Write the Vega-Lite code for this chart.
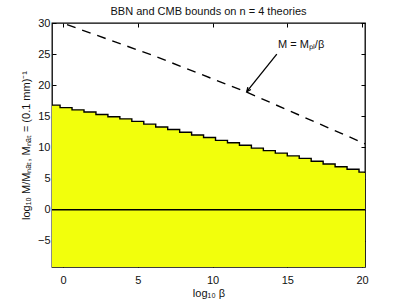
{
  "$schema": "https://vega.github.io/schema/vega-lite/v6.json",
  "autosize": {"type": "none"},
  "width": 313,
  "height": 244,
  "padding": {"left": 52, "top": 23, "right": 38, "bottom": 37},
  "background": "white",
  "config": {
    "view": {"stroke": "black", "strokeWidth": 1.3},
    "font": "Liberation Sans",
    "axis": {"domain": false, "grid": false, "tickColor": "black", "tickSize": -4, "labelColor": "#111", "labelFontSize": 11, "titleFontSize": 11, "titleFontWeight": "normal", "titleColor": "#111", "labelFont": "Liberation Sans", "titleFont": "Liberation Sans"}
  },
  "title": {"text": "BBN and CMB bounds on n = 4 theories", "fontSize": 11, "fontWeight": "normal", "color": "#111", "font": "Liberation Sans", "offset": 0},
  "datasets": {
    "bound": [
      {"lb": -0.74, "m": 16.8}, {"lb": -0.2, "m": 16.4}, {"lb": 0.6, "m": 16.05}, {"lb": 1.4, "m": 15.7},
      {"lb": 2.2, "m": 15.3}, {"lb": 3.0, "m": 14.95}, {"lb": 3.8, "m": 14.6}, {"lb": 4.6, "m": 14.2},
      {"lb": 5.4, "m": 13.75}, {"lb": 6.2, "m": 13.3}, {"lb": 7.0, "m": 12.9}, {"lb": 7.8, "m": 12.45},
      {"lb": 8.6, "m": 12.0}, {"lb": 9.4, "m": 11.6}, {"lb": 10.2, "m": 11.15}, {"lb": 11.0, "m": 10.75},
      {"lb": 11.8, "m": 10.35}, {"lb": 12.6, "m": 9.9}, {"lb": 13.4, "m": 9.5}, {"lb": 14.2, "m": 9.1},
      {"lb": 15.0, "m": 8.65}, {"lb": 15.8, "m": 8.25}, {"lb": 16.6, "m": 7.8}, {"lb": 17.4, "m": 7.35},
      {"lb": 18.2, "m": 6.9}, {"lb": 19.0, "m": 6.5}, {"lb": 19.8, "m": 6.05}, {"lb": 20.2, "m": 5.9}
    ],
    "planck": [
      {"lb": -0.74, "m": 30.6}, {"lb": 6.0, "m": 24.8}, {"lb": 12.27, "m": 18.9}, {"lb": 20.2, "m": 10.6}
    ],
    "zero": [{"m": 0}],
    "arrow": [{"lb": 14.3, "m": 25.0}, {"lb": 12.29, "m": 18.97}],
    "tip": [{"lb": 12.29, "m": 18.97}],
    "label": [{"lb": 14.38, "m": 26.5, "t": "M = Mₚₗ/β"}]
  },
  "layer": [
    {
      "data": {"name": "bound"},
      "mark": {"type": "area", "interpolate": "step-after", "color": "#f2ff0c", "clip": true},
      "encoding": {
        "x": {"field": "lb", "type": "quantitative", "scale": {"domain": [-0.74, 20.2], "nice": false, "zero": false},
              "axis": {"orient": "bottom", "values": [0, 5, 10, 15, 20], "title": "log₁₀ β", "labelPadding": 11, "titlePadding": 2}},
        "y": {"field": "m", "type": "quantitative", "scale": {"domain": [-9.2, 30], "nice": false, "zero": false},
              "axis": {"orient": "left", "values": [-5, 0, 5, 10, 15, 20, 25, 30], "title": "log₁₀ M/Mₙₐₜ, Mₙₐₜ = (0.1 mm)⁻¹", "labelPadding": 6, "titlePadding": 6}},
        "y2": {"datum": -9.2}
      }
    },
    {
      "data": {"name": "bound"},
      "mark": {"type": "line", "interpolate": "step-after", "color": "black", "strokeWidth": 1.4, "clip": true},
      "encoding": {
        "x": {"field": "lb", "type": "quantitative", "axis": null},
        "y": {"field": "m", "type": "quantitative", "axis": null}
      }
    },
    {
      "data": {"name": "zero"},
      "mark": {"type": "rule", "color": "black", "strokeWidth": 1.3},
      "encoding": {"y": {"field": "m", "type": "quantitative", "axis": null}}
    },
    {
      "data": {"name": "planck"},
      "mark": {"type": "line", "color": "black", "strokeWidth": 1.4, "strokeDash": [9, 7], "clip": true},
      "encoding": {
        "x": {"field": "lb", "type": "quantitative", "axis": {"orient": "top", "values": [0, 5, 10, 15, 20], "labels": false, "title": null}},
        "y": {"field": "m", "type": "quantitative", "axis": {"orient": "right", "values": [-5, 0, 5, 10, 15, 20, 25, 30], "labels": false, "title": null}}
      }
    },
    {
      "data": {"name": "arrow"},
      "mark": {"type": "line", "color": "black", "strokeWidth": 1.3},
      "encoding": {
        "x": {"field": "lb", "type": "quantitative", "axis": null},
        "y": {"field": "m", "type": "quantitative", "axis": null}
      }
    },
    {
      "data": {"name": "tip"},
      "mark": {"type": "point", "shape": "M-0.5,1.1L0,0L0.5,1.1", "filled": false, "color": "black", "strokeWidth": 1.3, "size": 60, "angle": 218, "opacity": 1},
      "encoding": {
        "x": {"field": "lb", "type": "quantitative", "axis": null},
        "y": {"field": "m", "type": "quantitative", "axis": null}
      }
    },
    {
      "data": {"name": "label"},
      "mark": {"type": "text", "align": "left", "baseline": "middle", "fontSize": 11, "color": "#111", "font": "Liberation Sans"},
      "encoding": {
        "x": {"field": "lb", "type": "quantitative", "axis": null},
        "y": {"field": "m", "type": "quantitative", "axis": null},
        "text": {"field": "t"}
      }
    }
  ],
  "resolve": {"axis": {"x": "independent", "y": "independent"}}
}
